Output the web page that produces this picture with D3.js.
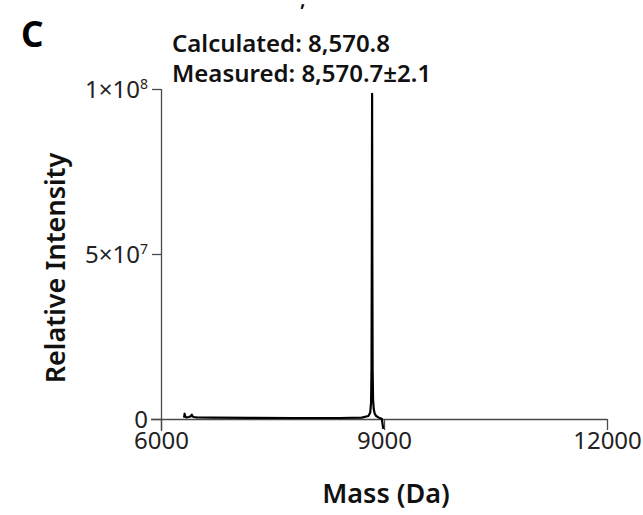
<!DOCTYPE html>
<html>
<head>
<meta charset="utf-8">
<script src="https://cdn.jsdelivr.net/npm/d3@7"></script>
<style>
  body { margin: 0; background: #fff; }
  text { font-family: "Noto Sans", sans-serif; }
</style>
</head>
<body>
<script>
// spectrum
var mass = [6310, 6318, 6324, 6330, 6345, 6370, 6400, 6415, 6425, 6440, 6480, 6520, 6700, 7200, 7800, 8400,
            8700, 8790, 8815, 8826, 8832, 8836, 8840, 8843, 8847, 8853, 8862, 8875, 8895, 8930, 8970, 8990];
var intensity = [0.4e6, 1.6e6, 0.9e6, 0.6e6, 0.5e6, 0.6e6, 0.8e6, 1.3e6, 0.8e6, 0.6e6, 0.5e6, 0.45e6, 0.4e6, 0.35e6, 0.3e6, 0.3e6,
                 0.4e6, 0.9e6, 2.0e6, 5e6, 15e6, 50e6, 98.5e6, 50e6, 15e6, 6e6, 3e6, 1.6e6, 0.9e6, 0.4e6, 0.1e6, -3e6];

var xTicks = [6000, 9000, 12000];
var yTicks = [0, 5e7, 1e8];
var yTickLabels = [["0", ""], ["5×10", "7"], ["1×10", "8"]];

var width = 643, height = 515;
var margin = { top: 89, bottom: 96, left: 161, right: 36 };

var svg = d3.select("body")
    .append("svg")
    .attr("width", width)
    .attr("height", height);

var x = d3.scaleLinear()
    .domain([6000, 12000])
    .range([margin.left, width - margin.right]);
var y = d3.scaleLinear()
    .domain([0, 1e8])
    .range([height - margin.bottom, margin.top]);

// x axis
var xAxis = svg.append("g")
    .attr("transform", "translate(0," + y(0) + ")")
    .call(d3.axisBottom(x).tickValues(xTicks).tickSize(11).tickSizeOuter(0).tickPadding(2)
        .tickFormat(d3.format("d")));
xAxis.select(".domain").attr("d", "M" + (x(6000) - 10) + ",0.5H" + x(12000));

// y axis
var yAxis = svg.append("g")
    .attr("transform", "translate(" + x(6000) + ",0)")
    .call(d3.axisLeft(y).tickValues(yTicks).tickSize(9).tickSizeOuter(0).tickPadding(4)
        .tickFormat(function() { return ""; }));
yAxis.select(".domain").attr("d", "M0.5," + y(1e8) + "V" + (y(0) + 12));

svg.selectAll(".domain, .tick line").attr("stroke", "#4a4a4a").attr("stroke-width", 1.3);
svg.selectAll(".tick text")
    .attr("fill", "#222")
    .style("font-size", "24px")
    .style("font-family", "'Noto Sans', sans-serif");

// y tick labels with superscripts
yAxis.selectAll(".tick text").each(function(d, i) {
    var t = d3.select(this).attr("dy", "0.34em");
    t.append("tspan").text(yTickLabels[i][0]);
    if (yTickLabels[i][1]) {
        t.append("tspan")
            .attr("dy", "-0.6em")
            .style("font-size", "14px")
            .text(yTickLabels[i][1]);
    }
});

// spectrum line
var line = d3.line()
    .x(function(d, i) { return x(mass[i]); })
    .y(function(d) { return y(d); });

svg.append("path")
    .datum(intensity)
    .attr("d", line)
    .attr("fill", "none")
    .attr("stroke", "#000")
    .attr("stroke-width", 2.2)
    .attr("stroke-linejoin", "round");

// axis titles
svg.append("text")
    .attr("transform", "translate(65," + 268 + ") rotate(-90)")
    .attr("text-anchor", "middle")
    .style("font-size", "27px")
    .style("font-weight", 600)
    .attr("fill", "#111")
    .text("Relative Intensity");

svg.append("text")
    .attr("x", 386)
    .attr("y", 503)
    .attr("text-anchor", "middle")
    .style("font-size", "27px")
    .style("font-weight", 600)
    .attr("fill", "#111")
    .text("Mass (Da)");

// panel letter and annotation
svg.append("text")
    .attr("x", 21)
    .attr("y", 47)
    .style("font-size", "35px")
    .style("font-weight", 700)
    .attr("fill", "#000")
    .text("C");

svg.append("text")
    .attr("x", 300)
    .attr("y", 6)
    .style("font-size", "20px")
    .style("font-weight", 600)
    .text(",");

svg.append("text")
    .attr("x", 172)
    .attr("y", 52)
    .style("font-size", "24px")
    .style("font-weight", 600)
    .attr("fill", "#111")
    .text("Calculated: 8,570.8");

svg.append("text")
    .attr("x", 172)
    .attr("y", 82)
    .style("font-size", "24px")
    .style("font-weight", 600)
    .attr("fill", "#111")
    .text("Measured: 8,570.7±2.1");
</script>
</body>
</html>
